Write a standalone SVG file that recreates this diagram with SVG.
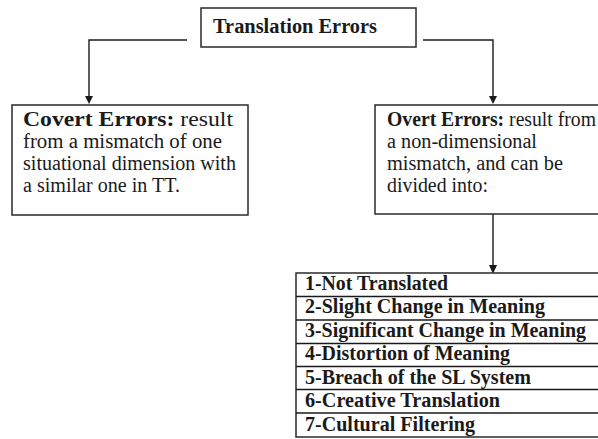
<svg xmlns="http://www.w3.org/2000/svg" width="598" height="439" viewBox="0 0 598 439">
<defs>
<style>
.box{fill:#fff;stroke:#2a2a2a;stroke-width:1.5}
.ln{fill:none;stroke:#1a1a1a;stroke-width:1.4}
.ah{fill:#1a1a1a}
.t{font-family:"Liberation Serif","Times New Roman",serif;font-size:20px;fill:#1a1a1a}
.b{font-weight:bold}
.tb{font-family:"Liberation Serif","Times New Roman",serif;font-size:20px;font-weight:bold;fill:#1a1a1a}
</style>
</defs>
<rect width="598" height="439" fill="#fff"/>
<g id="connectors">
<polyline class="ln" points="187,40 89,40 89,97"/>
<path class="ah" d="M85,96 L93,96 L89,104 Z"/>
<polyline class="ln" points="423,40 493,40 493,97"/>
<path class="ah" d="M489,96 L497,96 L493,104 Z"/>
<line class="ln" x1="493" y1="214" x2="493" y2="266"/>
<path class="ah" d="M489,265 L497,265 L493,274 Z"/>
</g>
<g id="translation-errors">
<rect class="box" x="201" y="8" width="215" height="39"/>
<text class="tb" x="213" y="33" textLength="164" lengthAdjust="spacingAndGlyphs">Translation Errors</text>
</g>
<g id="covert-errors">
<rect class="box" x="12" y="105" width="236" height="110"/>
<text class="t" x="23" y="126" textLength="210" lengthAdjust="spacingAndGlyphs"><tspan class="b">Covert Errors:</tspan> result</text>
<text class="t" x="23" y="148" textLength="199" lengthAdjust="spacingAndGlyphs">from a mismatch of one</text>
<text class="t" x="23" y="170" textLength="213" lengthAdjust="spacingAndGlyphs">situational dimension with</text>
<text class="t" x="23" y="192" textLength="157" lengthAdjust="spacingAndGlyphs">a similar one in TT.</text>
</g>
<g id="overt-errors">
<rect class="box" x="375" y="105" width="240" height="109"/>
<text class="t" x="387" y="126" textLength="209" lengthAdjust="spacingAndGlyphs"><tspan class="b">Overt Errors:</tspan> result from</text>
<text class="t" x="387" y="148" textLength="150" lengthAdjust="spacingAndGlyphs">a non-dimensional</text>
<text class="t" x="387" y="170" textLength="176" lengthAdjust="spacingAndGlyphs">mismatch, and can be</text>
<text class="t" x="387" y="192" textLength="101" lengthAdjust="spacingAndGlyphs">divided into:</text>
</g>
<g id="error-types">
<rect class="box" x="296" y="273" width="320" height="164"/>
<line class="ln" x1="296" y1="296.5" x2="600" y2="296.5"/>
<line class="ln" x1="296" y1="320" x2="600" y2="320"/>
<line class="ln" x1="296" y1="343.5" x2="600" y2="343.5"/>
<line class="ln" x1="296" y1="366.5" x2="600" y2="366.5"/>
<line class="ln" x1="296" y1="389.5" x2="600" y2="389.5"/>
<line class="ln" x1="296" y1="413" x2="600" y2="413"/>
<text class="tb" x="305" y="290" textLength="143" lengthAdjust="spacingAndGlyphs">1-Not Translated</text>
<text class="tb" x="305" y="313" textLength="240" lengthAdjust="spacingAndGlyphs">2-Slight Change in Meaning</text>
<text class="tb" x="305" y="337" textLength="281" lengthAdjust="spacingAndGlyphs">3-Significant Change in Meaning</text>
<text class="tb" x="305" y="360" textLength="205" lengthAdjust="spacingAndGlyphs">4-Distortion of Meaning</text>
<text class="tb" x="305" y="384" textLength="226" lengthAdjust="spacingAndGlyphs">5-Breach of the SL System</text>
<text class="tb" x="305" y="407" textLength="195" lengthAdjust="spacingAndGlyphs">6-Creative Translation</text>
<text class="tb" x="305" y="431" textLength="170" lengthAdjust="spacingAndGlyphs">7-Cultural Filtering</text>
</g>
</svg>
